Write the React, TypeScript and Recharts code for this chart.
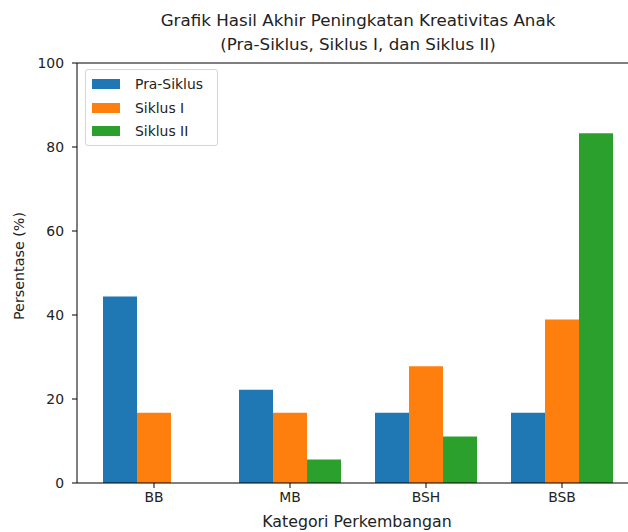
import React from 'react';
import { BarChart, Bar, XAxis, YAxis, ReferenceLine } from 'recharts';

const categories = ['BB', 'MB', 'BSH', 'BSB'];
const praSiklus = [44.4, 22.2, 16.7, 16.7];
const siklusI = [16.7, 16.7, 27.8, 38.9];
const siklusII = [0, 5.6, 11.1, 83.3];
const yTicks = [0, 20, 40, 60, 80, 100];

const seriesNames = ['Pra-Siklus', 'Siklus I', 'Siklus II'];
const seriesKeys = ['pra', 's1', 's2'];
const seriesColors = ['#1f77b4', '#ff7f0e', '#2ca02c'];

const data = categories.map((kategori, i) => ({
    kategori,
    pra: praSiklus[i],
    s1: siklusI[i],
    s2: siklusII[i],
}));

const FONT = '"DejaVu Sans", sans-serif';
const TEXT = '#222';

const YLabel = (props: any) => {
    const { viewBox } = props;
    const cx = viewBox.x + 19;
    const cy = viewBox.y + viewBox.height / 2 - 7;
    return (
        <text
            x={cx}
            y={cy}
            transform={`rotate(-90 ${cx} ${cy})`}
            textAnchor="middle"
            dominantBaseline="central"
            fontFamily={FONT}
            fontSize={14.3}
            fill={TEXT}
        >
            Persentase (%)
        </text>
    );
};

const XLabel = (props: any) => {
    const { viewBox } = props;
    return (
        <text
            x={viewBox.x + viewBox.width / 2 - 1}
            y={521}
            textAnchor="middle"
            dominantBaseline="central"
            fontFamily={FONT}
            fontSize={15.8}
            fill={TEXT}
        >
            Kategori Perkembangan
        </text>
    );
};

const ChartLegend = () => (
    <div
        style={{
            position: 'absolute',
            left: 85,
            top: 69,
            width: 133,
            height: 77,
            border: '1px solid #d4d4d4',
            borderRadius: 3,
            background: 'rgba(255,255,255,0.8)',
            boxSizing: 'border-box',
            fontFamily: FONT,
            fontSize: 13.9,
            color: TEXT,
        }}
    >
        {seriesNames.map((name, i) => (
            <div key={name} style={{ position: 'absolute', left: 0, top: 4 + i * 23.5, height: 20, width: '100%' }}>
                <div
                    style={{
                        position: 'absolute',
                        left: 6,
                        top: 5,
                        width: 28,
                        height: 10,
                        background: seriesColors[i],
                    }}
                />
                <span style={{ position: 'absolute', left: 49, top: 1, lineHeight: '18px', whiteSpace: 'nowrap' }}>
                    {name}
                </span>
            </div>
        ))}
    </div>
);

export default function App() {
    return (
        <div
            style={{
                position: 'absolute',
                left: 0,
                top: 0,
                width: 628,
                height: 532,
                overflow: 'hidden',
                background: '#fff',
            }}
        >
            <div
                style={{
                    position: 'absolute',
                    left: 0,
                    width: 716,
                    top: 8,
                    textAlign: 'center',
                    fontFamily: FONT,
                    fontSize: 16.7,
                    lineHeight: '24px',
                    color: TEXT,
                }}
            >
                Grafik Hasil Akhir Peningkatan Kreativitas Anak
                <br />
                (Pra-Siklus, Siklus I, dan Siklus II)
            </div>
            <BarChart
                width={660}
                height={532}
                data={data}
                margin={{ top: 63, right: 21, left: 0, bottom: 0 }}
                barGap={0}
                barSize={34}
            >
                <XAxis
                    dataKey="kategori"
                    height={49}
                    padding={{ left: 9, right: 9 }}
                    axisLine={{ stroke: '#000', strokeWidth: 1 }}
                    tickLine={{ stroke: '#000', strokeWidth: 1 }}
                    tickSize={5}
                    tickMargin={4}
                    tick={{ fontSize: 13.9, fontFamily: FONT, fill: TEXT }}
                    label={<XLabel />}
                />
                <YAxis
                    width={77}
                    domain={[0, 100]}
                    ticks={yTicks}
                    allowDataOverflow
                    axisLine={{ stroke: '#000', strokeWidth: 1 }}
                    tickLine={{ stroke: '#000', strokeWidth: 1 }}
                    tickSize={5}
                    tickMargin={8}
                    tick={{ fontSize: 13.9, fontFamily: FONT, fill: TEXT }}
                    label={<YLabel />}
                />
                <ReferenceLine y={100} stroke="#000" strokeWidth={1} />
                {seriesKeys.map((key, i) => (
                    <Bar
                        key={key}
                        dataKey={key}
                        name={seriesNames[i]}
                        fill={seriesColors[i]}
                        isAnimationActive={false}
                    />
                ))}
            </BarChart>
            <ChartLegend />
        </div>
    );
}
